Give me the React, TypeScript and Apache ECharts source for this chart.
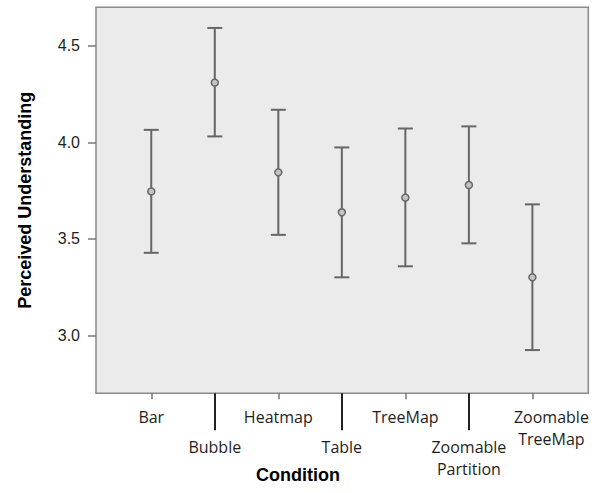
import React, { useEffect, useRef } from "react";
import * as echarts from "echarts";

const categories = ["Bar", "Bubble", "Heatmap", "Table", "TreeMap", "Zoomable\nPartition", "Zoomable\nTreeMap"];
const means = [3.746, 4.31, 3.845, 3.638, 3.714, 3.779, 3.301];
const lower = [3.428, 4.031, 3.521, 3.301, 3.358, 3.477, 2.924];
const upper = [4.065, 4.593, 4.169, 3.974, 4.072, 4.083, 3.679];
const yTicks = [3.0, 3.5, 4.0, 4.5];
const upperRowIdx = [0, 2, 4, 6];
const lowerRowIdx = [1, 3, 5];

export default function App() {
  const ref = useRef<HTMLDivElement>(null);
  useEffect(() => {
    if (!ref.current) return;
    const chart = echarts.init(ref.current, null, { renderer: "svg" });
    const data = categories.map((_, i) => [i, lower[i], upper[i], means[i]]);
    const xMin = -0.87;
    const xMax = 6.88;
    const labelFont = { fontFamily: "Open Sans", fontSize: 16, color: "#1e1e1e", lineHeight: 21.5 };
    const rich = {
      n: { fontFamily: "Open Sans", fontSize: 16, color: "#1e1e1e", lineHeight: 21.5 },
      r: { fontFamily: "Open Sans", fontSize: 16, color: "#1e1e1e", lineHeight: 21.5, padding: [0, 0, 0, 38] },
    };
    const fmt = (v: number) => {
      const i = Math.round(v);
      const tag = i === categories.length - 1 ? "r" : "n";
      return categories[i]
        .split("\n")
        .map((s) => `{${tag}|${s}}`)
        .join("\n");
    };
    chart.setOption({
      animation: false,
      backgroundColor: "#ffffff",
      grid: {
        left: 96,
        right: 14.7,
        top: 7.3,
        bottom: 99.7,
        show: true,
        backgroundColor: "#ebebeb",
        borderColor: "#8a8a8a",
        borderWidth: 1.5,
      },
      xAxis: [
        {
          type: "value",
          min: xMin,
          max: xMax,
          position: "bottom",
          axisLine: { show: false, onZero: false },
          splitLine: { show: false },
          axisTick: {
            show: true,
            length: 6,
            customValues: upperRowIdx,
            lineStyle: { color: "#777", width: 1.5 },
          },
          axisLabel: {
            ...labelFont,
            margin: 13,
            customValues: upperRowIdx,
            formatter: fmt,
            rich,
          },
        },
        {
          type: "value",
          min: xMin,
          max: xMax,
          position: "bottom",
          axisLine: { show: false, onZero: false },
          splitLine: { show: false },
          axisTick: {
            show: true,
            length: 37,
            customValues: lowerRowIdx,
            lineStyle: { color: "#222", width: 2 },
          },
          axisLabel: {
            ...labelFont,
            margin: 43,
            customValues: lowerRowIdx,
            formatter: fmt,
            rich,
          },
        },
      ],
      yAxis: {
        type: "value",
        min: 2.7,
        max: 4.7,
        name: "Perceived Understanding",
        nameLocation: "middle",
        nameGap: 62,
        nameTextStyle: { fontFamily: "Liberation Sans", fontWeight: "bold", fontSize: 18, color: "#000" },
        axisLine: { show: false, onZero: false },
        splitLine: { show: false },
        axisTick: {
          show: true,
          length: 8,
          customValues: yTicks,
          lineStyle: { color: "#777", width: 1.5 },
        },
        axisLabel: {
          customValues: yTicks,
          formatter: (v: number) => v.toFixed(1),
          fontFamily: "Liberation Sans",
          fontSize: 16,
          color: "#1e1e1e",
          margin: 16,
        },
      },
      graphic: [
        {
          type: "text",
          x: 298,
          y: 475,
          style: {
            text: "Condition",
            align: "center",
            verticalAlign: "middle",
            fontFamily: "Liberation Sans",
            fontWeight: "bold",
            fontSize: 18,
            fill: "#000",
          },
        },
      ],
      series: [
        {
          type: "custom",
          xAxisIndex: 0,
          yAxisIndex: 0,
          data,
          encode: { x: 0, y: [1, 2, 3] },
          renderItem: (params: any, api: any) => {
            const x = api.value(0);
            const pLo = api.coord([x, api.value(1)]);
            const pHi = api.coord([x, api.value(2)]);
            const pM = api.coord([x, api.value(3)]);
            const cap = 7.5;
            const stroke = "#666";
            return {
              type: "group",
              children: [
                { type: "line", shape: { x1: pLo[0], y1: pLo[1], x2: pHi[0], y2: pHi[1] }, style: { stroke, lineWidth: 2 } },
                { type: "line", shape: { x1: pLo[0] - cap, y1: pLo[1], x2: pLo[0] + cap, y2: pLo[1] }, style: { stroke, lineWidth: 2 } },
                { type: "line", shape: { x1: pHi[0] - cap, y1: pHi[1], x2: pHi[0] + cap, y2: pHi[1] }, style: { stroke, lineWidth: 2 } },
                { type: "circle", shape: { cx: pM[0], cy: pM[1], r: 3.5 }, style: { fill: "#c4c4c4", stroke, lineWidth: 1.5 } },
              ],
            };
          },
        },
      ],
    });
    return () => chart.dispose();
  }, []);
  return <div ref={ref} style={{ position: "fixed", left: 0, top: 0, width: 603, height: 493 }} />;
}
